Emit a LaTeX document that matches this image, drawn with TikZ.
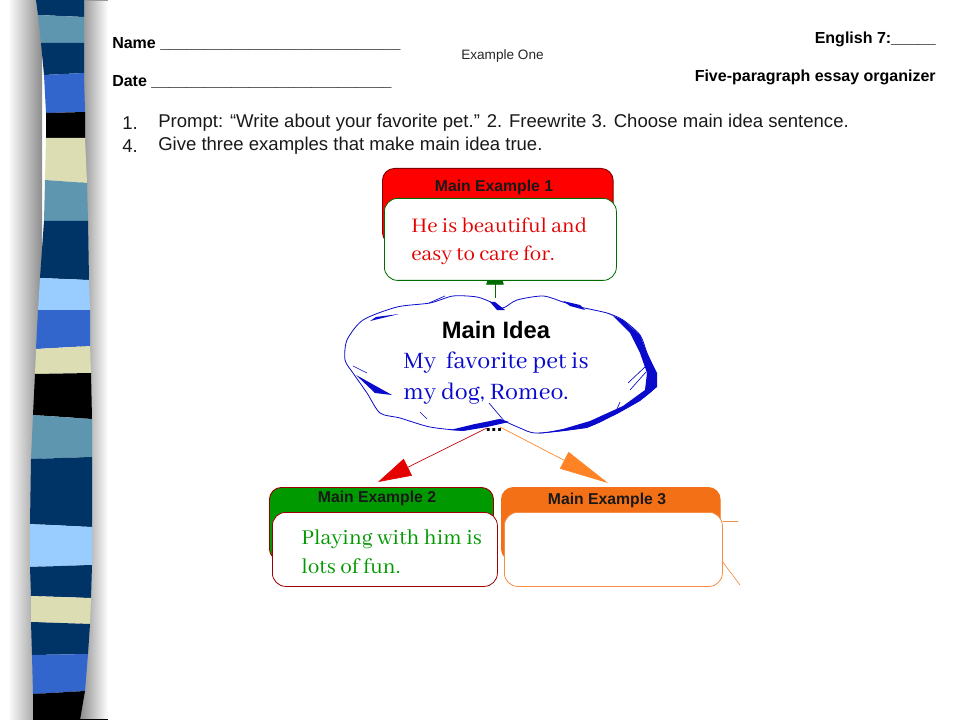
\documentclass[tikz,border=0pt]{standalone}
\usepackage{fontspec}
\setmainfont{Liberation Sans}
\newfontfamily\handfont{Abhaya Libre}
\usetikzlibrary{arrows.meta}
\definecolor{navy}{HTML}{003366}
\definecolor{teal}{HTML}{5F96AF}
\definecolor{royal}{HTML}{3366CC}
\definecolor{beige}{HTML}{DDDDB3}
\definecolor{sky}{HTML}{99CCFF}
\definecolor{cloudblue}{HTML}{0A0ACC}
\definecolor{headred}{HTML}{FF0000}
\definecolor{headgreen}{HTML}{009900}
\definecolor{headorange}{HTML}{F37016}
\definecolor{arroworange}{HTML}{FF8225}
\tikzset{
	lefttext/.style={anchor=west,inner sep=0pt,font=\fontsize{12}{14}\selectfont\bfseries},
	righttext/.style={anchor=east,inner sep=0pt,font=\fontsize{12}{14}\selectfont\bfseries},
	prompttext/.style={anchor=west,inner sep=0pt,font=\fontsize{13.9}{16}\selectfont,text=black!90},
	head/.style={draw=#1!50!black,fill=#1,rounded corners=9pt,line width=0.7pt,anchor=north west,inner sep=0pt},
	body/.style={draw=#1,fill=white,rounded corners=10pt,line width=0.6pt,anchor=north west,inner sep=0pt},
	headtext/.style={inner sep=0pt,font=\fontsize{11.8}{14}\selectfont\bfseries,text=black!90},
	handtext/.style={anchor=west,inner sep=0pt,align=left,font=\handfont\fontsize{17.1}{21}\selectfont},
}
\begin{document}
\begin{tikzpicture}[x=0.75pt,y=-0.75pt]
	\useasboundingbox (0,0) rectangle (960,720);
	\shade[left color=white,right color=black!45] (8,0) rectangle (42,720);
	\shade[left color=black!45,right color=white] (80,0) rectangle (108,720);
	\draw[black!40,line width=0.8pt] (85,0) -- (108,0);
	\draw[black,line width=1pt] (80,720) -- (108,720);
	\foreach \col/\la/\ra/\lb/\rb/\xla/\xra/\xlb/\xrb in {
		navy/0/0/15/17/36/84/38/84,
		teal/15/17/43/43/38/84/41/84,
		navy/43/43/75/73/41/84/44/84,
		royal/75/73/113/112/44/84/46/85,
		black/113/112/138/138/46/85/46/85,
		beige/138/138/180/183/46/85/45/87,
		teal/180/183/221/221/45/87/44/88,
		navy/221/221/278/280/44/88/40/89,
		sky/278/280/310/310/40/89/38/90,
		royal/310/310/349/346/38/90/36/90,
		beige/349/346/374/373/36/90/35/91,
		black/374/373/415/419/35/91/33/92,
		teal/415/419/459/457/33/92/31/92,
		navy/459/457/524/527/31/92/30/92,
		sky/524/527/567/565/30/92/30/92,
		navy/567/565/596/598/30/92/31/91,
		beige/596/598/622/624/31/91/31/90,
		navy/622/624/655/654/31/90/32/88,
		royal/655/654/694/691/32/88/33/85,
		black/694/691/720/720/33/85/33/80} {
		\fill[\col] (\xla,\la) -- (\xra,\ra) -- (\xrb,\rb) -- (\xlb,\lb) -- cycle;
	}
	\node[lefttext] (name) at (112,44) {Name \_\_\_\_\_\_\_\_\_\_\_\_\_\_\_\_\_\_\_\_\_\_\_\_\_\_\_};
	\node[lefttext] (date) at (112,82) {Date \_\_\_\_\_\_\_\_\_\_\_\_\_\_\_\_\_\_\_\_\_\_\_\_\_\_\_};
	\node[anchor=west,inner sep=0pt,font=\fontsize{10.2}{12}\selectfont,text=black!85] (exone) at (461,56) {Example One};
	\node[righttext] (english) at (936,39) {English 7:\_\_\_\_\_};
	\node[righttext] (organizer) at (936,77) {Five-paragraph essay organizer};
	\node[prompttext] (numone) at (122,123) {1.};
	\node[prompttext] (lineone) at (158,123) {Prompt: “Write about your favorite pet.” 2. Freewrite 3. Choose main idea sentence.};
	\node[prompttext] (numfour) at (122,146) {4.};
	\node[prompttext] (linefour) at (158,146) {Give three examples that make main idea true.};
	\coordinate (ideatop) at (495,298);
	\coordinate (idealeft) at (487,428);
	\coordinate (idearight) at (500,427);
	\coordinate (tipone) at (495,250);
	\coordinate (tiptwo) at (378,482);
	\coordinate (tipthree) at (608,483);
	\draw[headgreen!70!black,line width=0.6pt,-{Triangle[length=26pt,width=13pt]}] (ideatop) -- (tipone);
	\draw[red!75!black,line width=0.5pt,-{Triangle[length=25pt,width=14pt,color=red!90!black]}] (idealeft) -- (tiptwo);
	\draw[arroworange,line width=0.5pt,-{Triangle[length=37pt,width=14pt,color=arroworange]}] (idearight) -- (tipthree);
	\node[head=headred,minimum width=173pt,minimum height=57pt] (headone) at (382,168) {};
	\node[headtext] (titleone) at (494,187) {Main Example 1};
	\node[body=headgreen!70!black,minimum width=174pt,minimum height=61.5pt] (bodyone) at (384,198) {};
	\node[handtext,text=red!90!black] (textone) at (411,241) {He is beautiful and\\easy to care for.};
	\node[head=headgreen,draw=red!60!black,minimum width=168pt,minimum height=55pt] (headtwo) at (269,487) {};
	\node[headtext] (titletwo) at (377,498) {Main Example 2};
	\node[body=red!60!black,minimum width=168.75pt,minimum height=55.5pt] (bodytwo) at (272,512) {};
	\node[handtext,text=headgreen,font=\handfont\fontsize{17.4}{22}\selectfont] (texttwo) at (301,552) {Playing with him is\\lots of fun.};
	\node[head=headorange,draw=headorange,minimum width=164pt,minimum height=55pt] (headthree) at (501,487) {};
	\node[headtext] (titlethree) at (607,500) {Main Example 3};
	\node[body=headorange!80!white,minimum width=163.5pt,minimum height=55.5pt] (bodythree) at (504,512) {};
	\coordinate (strayone) at (738,521);
	\coordinate (straytwo) at (740,585);
	\draw[headorange!80!white,line width=0.5pt] (bodythree.east |- strayone) -- (strayone);
	\draw[headorange!80!white,line width=0.5pt] (722,561) -- (straytwo);
	\draw[cloudblue,line width=0.6pt,fill=white] plot[smooth cycle,tension=0.45] coordinates {(503,308) (517,300) (543,296) (563,302) (580,307) (607,313) (623,320) (640,335) (647,353) (655,373) (655,387) (640,400) (617,413) (587,427) (537,433) (520,428) (500,420) (487,423) (463,430) (430,427) (400,418) (380,413) (367,393) (353,373) (345,360) (347,340) (363,320) (397,307) (430,303) (453,296) (477,297) (493,303)};
	\fill[cloudblue] (607,313) -- (623,320) -- (640,335) -- (647,353) -- (657,373) -- (657,387) -- (640,401) -- (617,414) -- (587,428) -- (537,434) -- (563,429) -- (590,421) -- (623,406) -- (645,390) -- (647,373) -- (640,353) -- (630,333) -- (613,316) -- cycle;
	\fill[cloudblue] (500,419) -- (509,422) -- (487,427) -- (463,431) -- (450,430) -- (475,424) -- cycle;
	\fill[cloudblue] (490,302) -- (495,302) -- (505,310) -- (497,310) -- cycle;
	\fill[cloudblue] (563,301) -- (580,305) -- (585,310) -- (570,306) -- cycle;
	\fill[cloudblue] (356,375) -- (392,395) -- (375,393) -- cycle;
	\fill[cloudblue] (370,321) -- (399,314) -- (376,317) -- cycle;
	\foreach \xa/\ya/\xb/\yb in {353/366/367/373, 420/412/427/419, 489/403/505/422, 617/409/620/402, 630/390/646/372, 628/383/646/366, 429/303/445/296} {
		\draw[cloudblue,line width=0.5pt] (\xa,\ya) -- (\xb,\yb);
	}
	\node[inner sep=0pt,font=\fontsize{17.8}{20}\selectfont\bfseries] (ideatitle) at (496,330) {Main Idea};
	\node[handtext,text=cloudblue,font=\handfont\fontsize{19.4}{23.5}\selectfont] (ideatext) at (403,378) {My\ \ favorite pet is\\my dog, Romeo.};
	\node[inner sep=0pt,font=\fontsize{15}{17}\selectfont\bfseries] (dots) at (494,430) {...};
\end{tikzpicture}
\end{document}
